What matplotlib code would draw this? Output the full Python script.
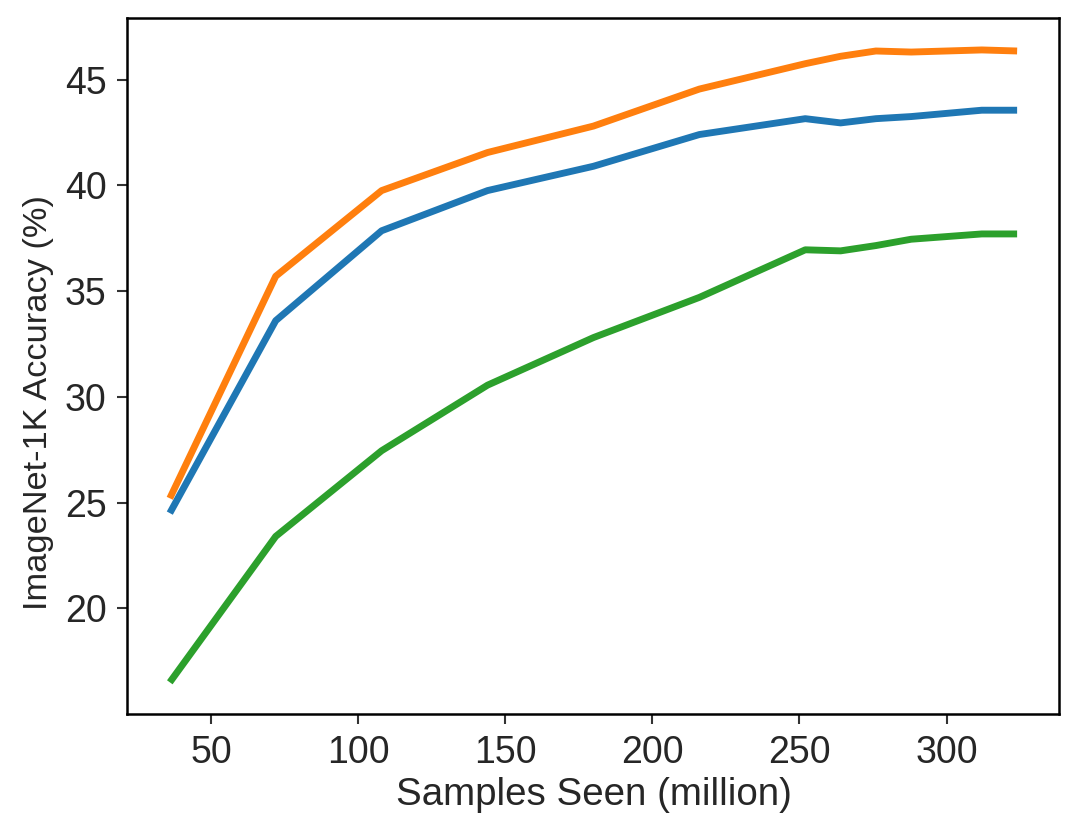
import matplotlib
matplotlib.use("Agg")
import matplotlib.pyplot as plt
import seaborn as sns

samples = [36, 72, 108, 144, 180, 216, 252, 264, 276, 288, 312, 324]
acc_blue = [24.5, 33.6, 37.85, 39.75, 40.9, 42.4, 43.15, 42.95, 43.15, 43.25, 43.55, 43.55]
acc_orange = [25.2, 35.7, 39.75, 41.55, 42.8, 44.55, 45.75, 46.1, 46.35, 46.3, 46.4, 46.35]
acc_green = [16.5, 23.4, 27.45, 30.55, 32.8, 34.7, 36.95, 36.9, 37.15, 37.45, 37.7, 37.7]

sns.set_style("ticks")
plt.rcParams['font.family'] = ['Liberation Sans', 'DejaVu Sans']

fig, ax = plt.subplots(figsize=(7.2, 5.567), dpi=150)
ax.plot(samples, acc_blue, color="#1f77b4", lw=3.3, solid_capstyle="butt")
ax.plot(samples, acc_orange, color="#ff7f0e", lw=3.3, solid_capstyle="butt")
ax.plot(samples, acc_green, color="#2ca02c", lw=3.3, solid_capstyle="butt")

ax.set_xlabel("Samples Seen (million)", fontsize=18.5, labelpad=3)
ax.set_ylabel("ImageNet-1K Accuracy (%)", fontsize=16.5, y=0.448, labelpad=5)
ax.tick_params(labelsize=18, length=5, width=1, pad=5, color="#333333")
for s in ax.spines.values():
    s.set_color("black")
    s.set_linewidth(1.2)

plt.subplots_adjust(left=0.118, right=0.981, top=0.978, bottom=0.145)
plt.savefig("out.png")
